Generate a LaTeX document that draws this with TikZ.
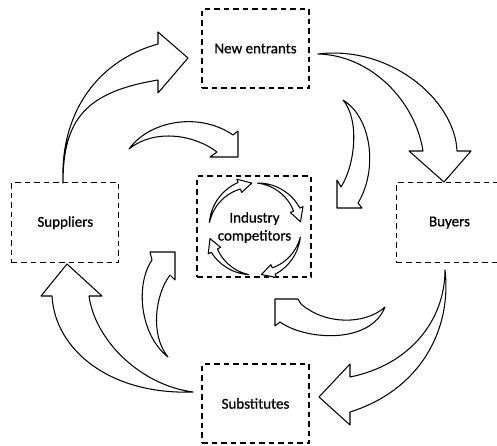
\documentclass[tikz,border=0pt]{standalone}
\usepackage{fontspec}
\setmainfont{Carlito}
\newfontfamily\lblfont[FakeBold=0.7]{Carlito}
\newcommand\ringarrow[3]{%
  \draw[blk] plot[domain=#1:#2, samples=24] ({255+(46+3.5*(\x-#1)/(#2-#1))*cos(\x)}, {229+(46+3.5*(\x-#1)/(#2-#1))*sin(\x)})
   -- ({255+53*cos(#2)},{229+53*sin(#2)}) -- ({255+46*cos(#3)},{229+46*sin(#3)}) -- ({255+39*cos(#2)},{229+39*sin(#2)})
   -- plot[domain=#2:#1, samples=24] ({255+(46-3.5*(\x-#1)/(#2-#1))*cos(\x)}, {229+(46-3.5*(\x-#1)/(#2-#1))*sin(\x)}) -- cycle;}
\begin{document}
\begin{tikzpicture}[x=1pt,y=-1pt,
  box/.style={draw, dash pattern=on 5.5pt off 4pt, line width=1.1pt, inner sep=0pt, font=\lblfont\fontsize{15}{18}\selectfont, align=center},
  blk/.style={draw, fill=white, line width=1.05pt, line join=round},
  lbl/.style={font=\lblfont\fontsize{15}{18}\selectfont, align=center}]
\useasboundingbox (0,0) rectangle (497,445);
\clip (0,0) rectangle (497,445);
% boxes
\node[box, minimum width=107pt, minimum height=79pt] (ne) at (255.5,48.5) {New entrants};
\node[box, minimum width=107pt, minimum height=80pt] (sup) at (65.3,222.7) {Suppliers};
\node[box, minimum width=106pt, minimum height=80pt] (buy) at (449.5,222.7) {Buyers};
\node[box, minimum width=107pt, minimum height=79pt] (sub) at (255.5,403.5) {Substitutes};
\node[box, minimum width=114pt, minimum height=101pt] (ind) at (254,226.5) {};
% big arrows
\draw[blk] (63,183) .. controls (60,110) and (100,60) .. (158,44) -- (158,32) -- (188,58) -- (158,93) -- (158,80) .. controls (85,92) and (63,120) .. (63,183) -- cycle;
\draw[blk] (318,54) .. controls (390,45) and (455,100) .. (457,151) -- (471,151) -- (444,182) -- (409,151) -- (423,151) .. controls (415,100) and (370,55) .. (318,54) -- cycle;
\draw[blk] (445,270) .. controls (452,330) and (420,390) .. (350,412) -- (350,425) -- (319,397) -- (350,364) -- (350,377) .. controls (410,365) and (445,320) .. (445,270) -- cycle;
\draw[blk] (193,392) .. controls (110,395) and (55,350) .. (52,296) -- (41,296) -- (67,264) -- (102,296) -- (89,296) .. controls (95,340) and (140,385) .. (193,392) -- cycle;
% small arrows
\draw[blk] (129,149) .. controls (150,120) and (200,112) .. (233,135) -- (238,131) -- (238,157) -- (210,157) -- (217,152) .. controls (195,135) and (155,128) .. (129,149) -- cycle;
\draw[blk] (343,100) .. controls (372,118) and (378,170) .. (358,203) -- (362,208) -- (337,208) -- (337,180) -- (341,187) .. controls (355,165) and (360,120) .. (343,100) -- cycle;
\draw[blk] (385,307) .. controls (365,325) and (325,325) .. (301,304) -- (298,299) -- (275,299) -- (275,326) -- (280,322) .. controls (305,340) and (370,345) .. (385,307) -- cycle;
\draw[blk] (168,357) .. controls (140,335) and (135,285) .. (152,260) -- (150,252) -- (175,252) -- (175,280) -- (170,275) .. controls (155,295) and (150,335) .. (168,357) -- cycle;
% ring arrows
\ringarrow{188}{250}{266}
\ringarrow{273}{335}{351}
\ringarrow{10}{66}{82}
\ringarrow{98}{152}{168}
\node[lbl] (indt) at (254.5,227.5) {Industry\\competitors};
\end{tikzpicture}
\end{document}
